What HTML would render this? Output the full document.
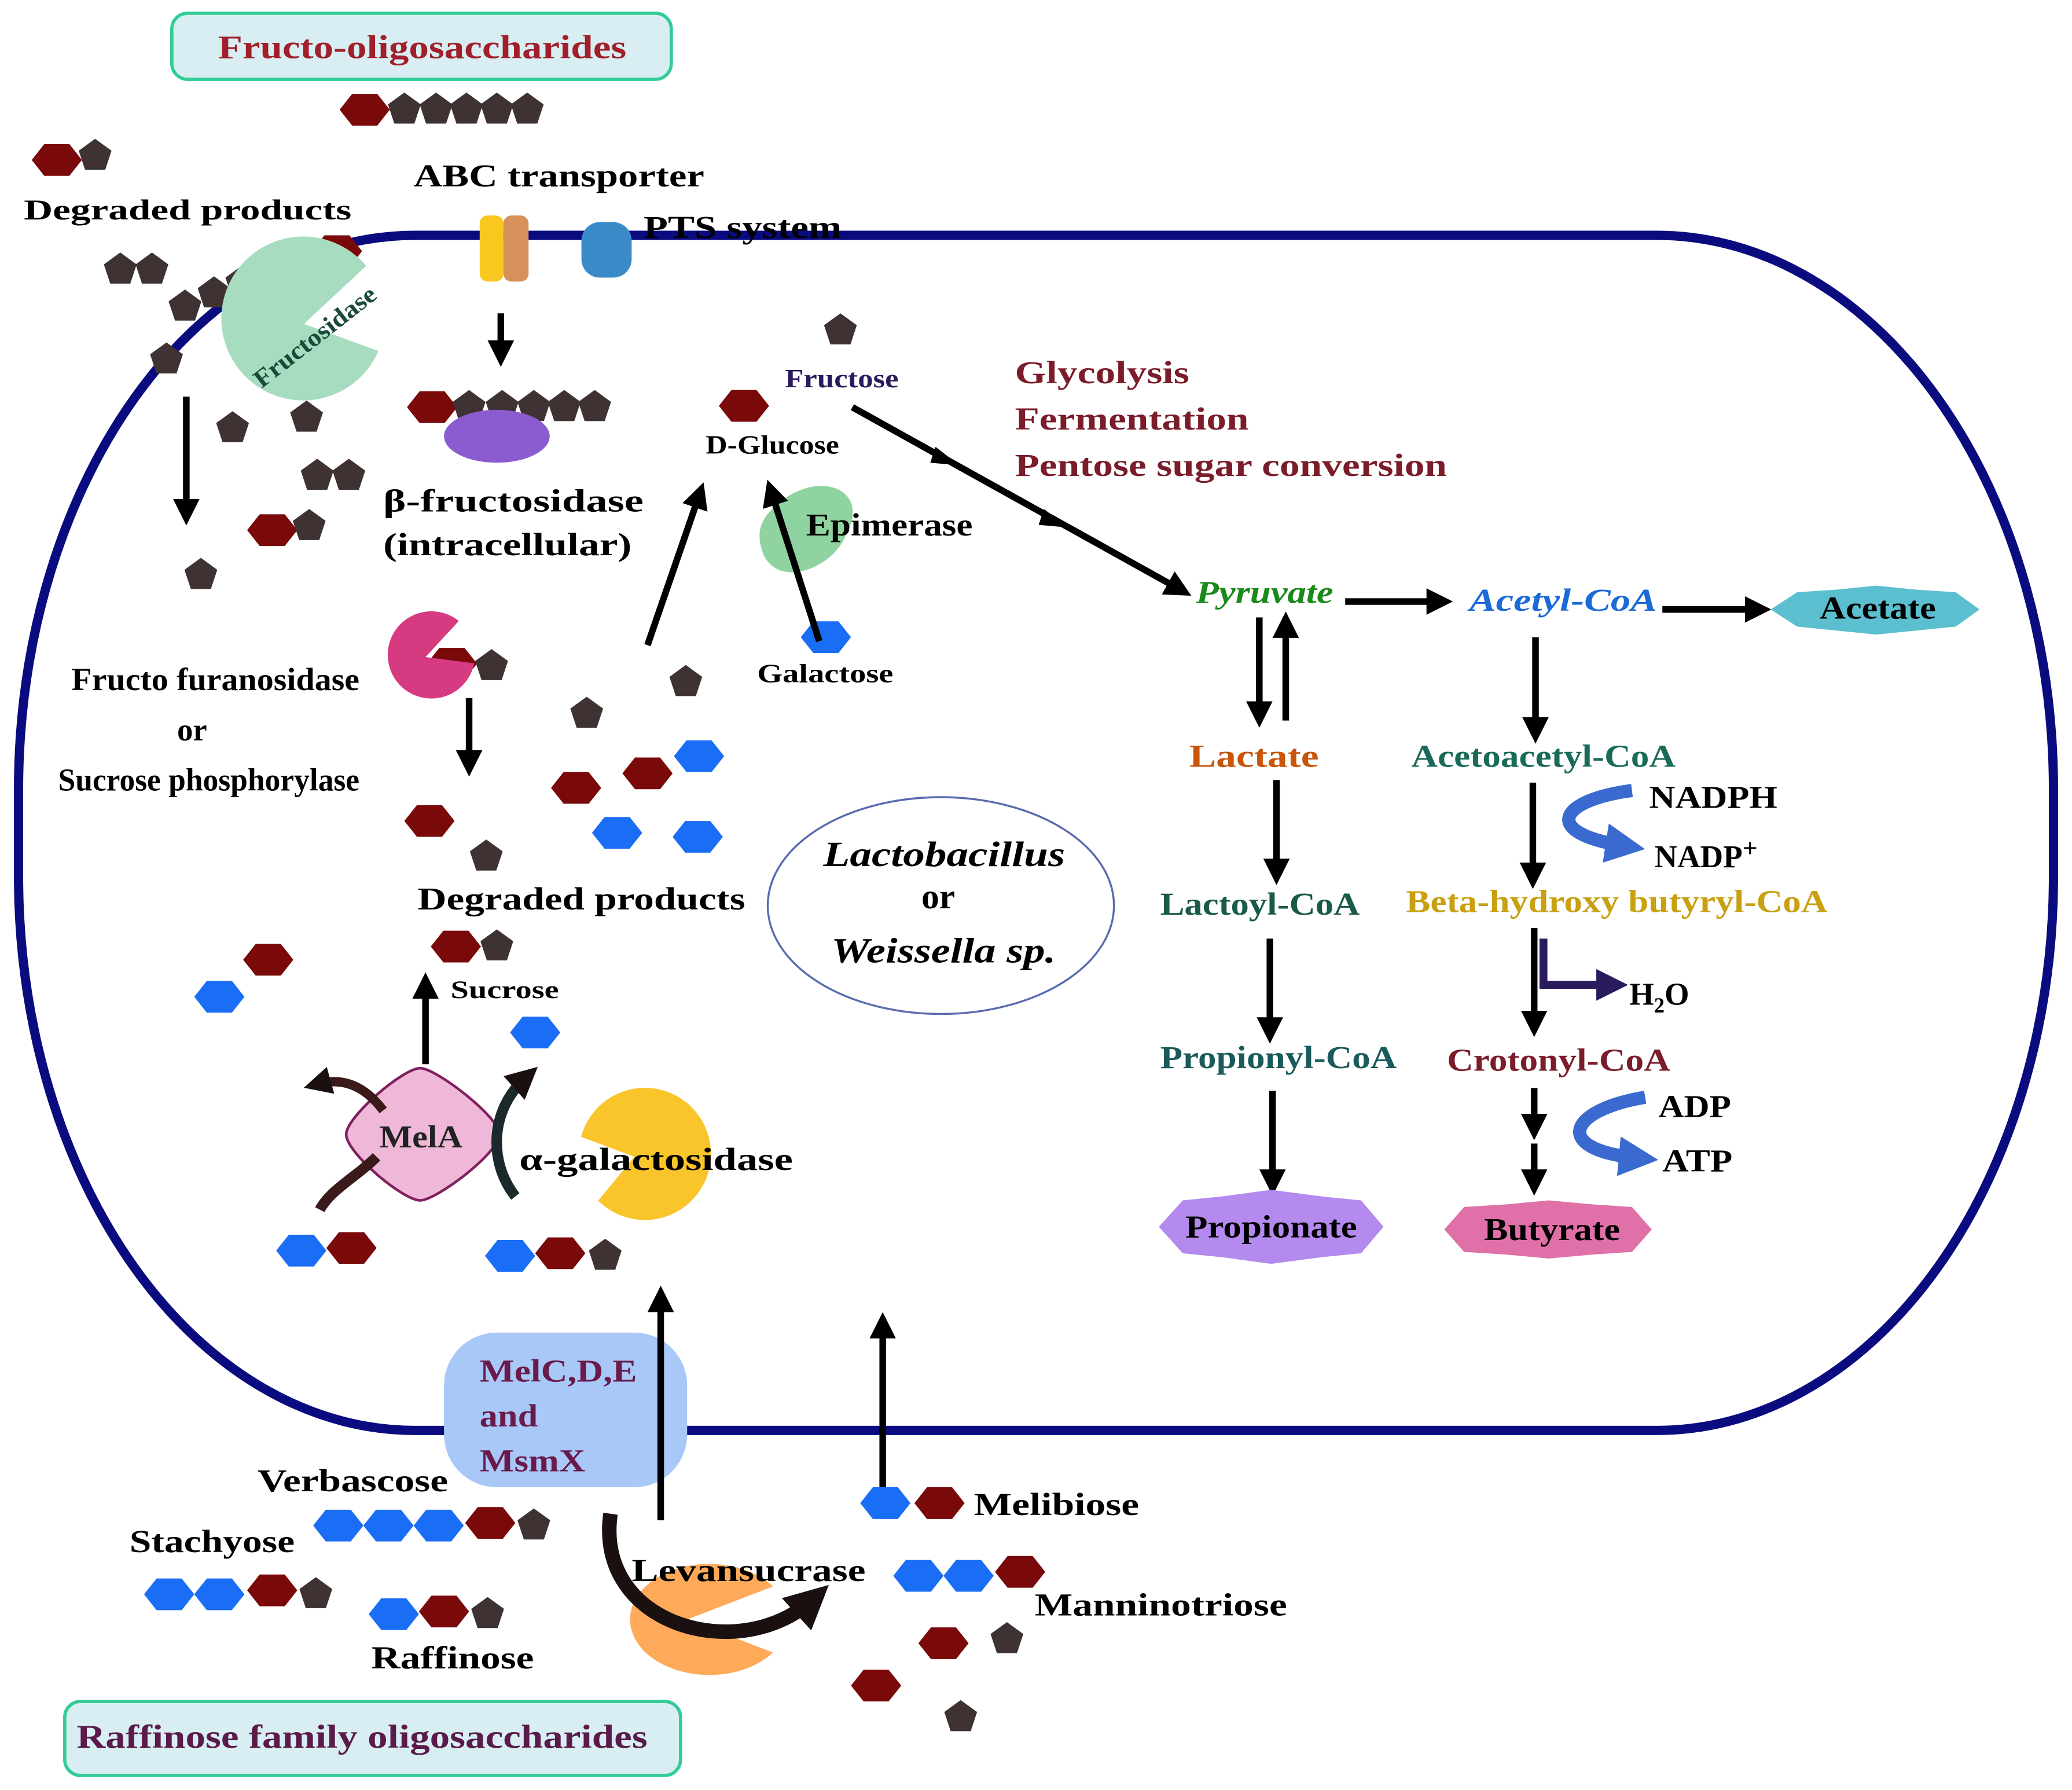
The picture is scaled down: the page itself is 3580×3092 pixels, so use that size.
<!DOCTYPE html>
<html><head><meta charset="utf-8">
<style>
html,body{margin:0;padding:0;background:#fff}
svg{display:block}
text{font-family:"Liberation Serif",serif;font-weight:bold}
</style></head>
<body>
<svg id="s" xmlns="http://www.w3.org/2000/svg" width="3580" height="3092" viewBox="0 0 1568 1354" preserveAspectRatio="none">
<defs>
<marker id="ah" markerWidth="4" markerHeight="4" refX="2.5" refY="2" orient="auto" markerUnits="strokeWidth"><path d="M0,0 L4,2 L0,4 z" fill="#000"/></marker>
<marker id="ah2" markerWidth="4" markerHeight="4" refX="2" refY="2" orient="auto" markerUnits="strokeWidth"><path d="M0,0 L4,2 L0,4 z" fill="#2a1a5e"/></marker>
<marker id="ah3" markerWidth="3" markerHeight="3" refX="1.5" refY="1.5" orient="auto" markerUnits="strokeWidth"><path d="M0,0 L3,1.5 L0,3 z" fill="#3a6ad0"/></marker>
<marker id="ah4" markerWidth="3" markerHeight="3" refX="1.5" refY="1.5" orient="auto" markerUnits="strokeWidth"><path d="M0,0 L3,1.5 L0,3 z" fill="#1a1010"/></marker>
</defs>
<rect x="0" y="0" width="1568" height="1354" fill="#fff"/>
<rect x="14" y="178" width="1540" height="904" rx="300" ry="420" fill="none" stroke="#0b0b80" stroke-width="7"/>
<rect x="130" y="10" width="378" height="50" rx="12" fill="#d8eef2" stroke="#33cc99" stroke-width="2.5"/>
<text x="165" y="44" font-size="25" fill="#a01f2a" textLength="309" lengthAdjust="spacingAndGlyphs">Fructo-oligosaccharides</text>
<rect x="49" y="1287" width="466" height="56" rx="12" fill="#d8eef2" stroke="#33cc99" stroke-width="2.5"/>
<text x="58" y="1322" font-size="25" fill="#5a1a4a" textLength="432" lengthAdjust="spacingAndGlyphs">Raffinose family oligosaccharides</text>
<g id="shapes"></g>
<rect x="363" y="163" width="18" height="50" rx="6" fill="#f8c820"/>
<rect x="381" y="163" width="19" height="50" rx="6" fill="#d8905a"/>
<rect x="440" y="168" width="38" height="42" rx="14" fill="#3a8ac8"/>
<path d="M230,245 L284,210 A62,62 0 1 0 282,275 Z" fill="#a8dcc0" transform="rotate(-10 230 245)"/>
<text x="0" y="0" font-size="19" fill="#1a4a3a" transform="translate(198,294) rotate(-38)" textLength="112" lengthAdjust="spacingAndGlyphs">Fructosidase</text>
<ellipse cx="376" cy="330" rx="40" ry="20" fill="#8a5ccf"/>
<path d="M590,380 C620,355 660,370 640,405 C630,430 590,445 578,420 C570,400 578,390 590,380Z" fill="#8fd4a0"/>
<path d="M322,497 L355,480 A33,33 0 1 0 355,514 Z" fill="#d63a80" transform="rotate(-20 322 497)"/>
<path d="M480,875 L445,850 A50,50 0 1 1 445,900 Z" fill="#f9c52a" transform="rotate(-15 480 875)"/>
<path d="M520,1225 L585,1200 A60,42 0 1 0 585,1250 Z" fill="#ffaa5a"/>
<rect x="336" y="1008" width="184" height="117" rx="40" fill="#a8c8f8"/>
<text x="363" y="1045" font-size="24" fill="#6a1a4a" textLength="119" lengthAdjust="spacingAndGlyphs">MelC,D,E</text>
<text x="363" y="1079" font-size="24" fill="#6a1a4a" textLength="44" lengthAdjust="spacingAndGlyphs">and</text>
<text x="363" y="1113" font-size="24" fill="#6a1a4a" textLength="80" lengthAdjust="spacingAndGlyphs">MsmX</text>
<path d="M318,808 C330,808 378,845 378,858 C378,872 330,908 318,908 C305,908 262,872 262,858 C262,845 305,808 318,808Z" fill="#f0b8d8" stroke="#802060" stroke-width="2"/>
<text x="287" y="868" font-size="24" fill="#222" textLength="63" lengthAdjust="spacingAndGlyphs">MelA</text>
<path d="M290,840 C275,820 258,815 240,820" fill="none" stroke="#3a1a1a" stroke-width="7" marker-end="url(#ah4)"/>
<path d="M285,875 C270,890 250,900 242,915" fill="none" stroke="#3a1a1a" stroke-width="8"/>
<path d="M390,905 C370,880 370,840 398,815" fill="none" stroke="#1a2a2a" stroke-width="8" marker-end="url(#ah4)"/>
<g stroke="#000" stroke-width="5" fill="none" marker-end="url(#ah)">
<line x1="141" y1="300" x2="141" y2="390"/>
<line x1="379" y1="237" x2="379" y2="270"/>
<line x1="645" y1="308" x2="895" y2="447"/>
<line x1="490" y1="488" x2="530" y2="372"/>
<line x1="620" y1="485" x2="583" y2="370"/>
<line x1="1018" y1="455" x2="1092" y2="455"/>
<line x1="1258" y1="461" x2="1333" y2="461"/>
<line x1="953" y1="467" x2="953" y2="543"/>
<line x1="973" y1="545" x2="973" y2="470"/>
<line x1="966" y1="590" x2="966" y2="662"/>
<line x1="961" y1="710" x2="961" y2="782"/>
<line x1="963" y1="825" x2="963" y2="897"/>
<line x1="1162" y1="482" x2="1162" y2="555"/>
<line x1="1160" y1="592" x2="1160" y2="665"/>
<line x1="1161" y1="702" x2="1161" y2="777"/>
<line x1="1161" y1="823" x2="1161" y2="855"/>
<line x1="1161" y1="865" x2="1161" y2="897"/>
<line x1="355" y1="528" x2="355" y2="580"/>
<line x1="322" y1="805" x2="322" y2="743"/>
<line x1="500" y1="1150" x2="500" y2="980"/>
<line x1="668" y1="1125" x2="668" y2="1000"/>
</g>
<g fill="#000"><path d="M708,338 l18,14 l-22,-2z"/><path d="M790,385 l18,14 l-22,-2z"/></g>
<path d="M1168,710 L1168,745 L1220,745" fill="none" stroke="#2a1a5e" stroke-width="6" marker-end="url(#ah2)"/>
<path d="M1235,598 C1180,605 1165,630 1230,640" fill="none" stroke="#3a6ad0" stroke-width="10" marker-end="url(#ah3)"/>
<path d="M1245,830 C1185,840 1175,870 1240,876" fill="none" stroke="#3a6ad0" stroke-width="10" marker-end="url(#ah3)"/>
<path d="M462,1145 C450,1230 560,1260 615,1210" fill="none" stroke="#1a1010" stroke-width="11" marker-end="url(#ah4)"/>
<polygon points="1340,461 1360,448 1390,446 1420,443 1450,446 1480,448 1498,461 1480,474 1450,477 1420,480 1390,477 1360,474" fill="#5bbfd0"/>
<polygon points="877,928 895,908 925,905 962,900 1000,905 1030,908 1047,928 1030,948 1000,951 962,956 925,951 895,948" fill="#b48aef"/>
<polygon points="1093,930 1108,913 1140,911 1172,908 1205,911 1235,913 1250,930 1235,947 1205,949 1172,952 1140,949 1108,947" fill="#e070a8"/>
<ellipse cx="712" cy="685" rx="131" ry="82" fill="none" stroke="#5a6ab0" stroke-width="1.5"/>
<g font-size="24" fill="#000" lengthAdjust="spacingAndGlyphs">
<text x="18" y="166" font-size="22" textLength="248" lengthAdjust="spacingAndGlyphs">Degraded products</text>
<text x="313" y="141" textLength="220" lengthAdjust="spacingAndGlyphs">ABC transporter</text>
<text x="487" y="180" textLength="150" lengthAdjust="spacingAndGlyphs">PTS system</text>
<text x="290" y="387" textLength="197" lengthAdjust="spacingAndGlyphs">β-fructosidase</text>
<text x="290" y="420" textLength="188" lengthAdjust="spacingAndGlyphs">(intracellular)</text>
<text x="594" y="293" font-size="20" fill="#2a1a5e" textLength="86" lengthAdjust="spacingAndGlyphs">Fructose</text>
<text x="534" y="343" font-size="20" textLength="101" lengthAdjust="spacingAndGlyphs">D-Glucose</text>
<text x="768" y="290" fill="#7a1c2a" textLength="132" lengthAdjust="spacingAndGlyphs">Glycolysis</text>
<text x="768" y="325" fill="#7a1c2a" textLength="177" lengthAdjust="spacingAndGlyphs">Fermentation</text>
<text x="768" y="360" fill="#7a1c2a" textLength="327" lengthAdjust="spacingAndGlyphs">Pentose sugar conversion</text>
<text x="610" y="405" textLength="126" lengthAdjust="spacingAndGlyphs">Epimerase</text>
<text x="573" y="516" font-size="20" textLength="103" lengthAdjust="spacingAndGlyphs">Galactose</text>
<text x="905" y="456" font-style="italic" fill="#1a8a1a" textLength="104" lengthAdjust="spacingAndGlyphs">Pyruvate</text>
<text x="1112" y="462" font-style="italic" fill="#1a6ad8" textLength="142" lengthAdjust="spacingAndGlyphs">Acetyl-CoA</text>
<text x="1377" y="468" textLength="88" lengthAdjust="spacingAndGlyphs">Acetate</text>
<text x="900" y="580" fill="#c8560a" textLength="98" lengthAdjust="spacingAndGlyphs">Lactate</text>
<text x="878" y="692" fill="#1a5a4a" textLength="151" lengthAdjust="spacingAndGlyphs">Lactoyl-CoA</text>
<text x="878" y="808" fill="#1a5a5a" textLength="179" lengthAdjust="spacingAndGlyphs">Propionyl-CoA</text>
<text x="897" y="936" textLength="130" lengthAdjust="spacingAndGlyphs">Propionate</text>
<text x="1068" y="580" fill="#1a6a5a" textLength="200" lengthAdjust="spacingAndGlyphs">Acetoacetyl-CoA</text>
<text x="1248" y="611" textLength="97" lengthAdjust="spacingAndGlyphs">NADPH</text>
<text x="1252" y="656">NADP<tspan dy="-8" font-size="20">+</tspan></text>
<text x="1064" y="690" fill="#c8a010" textLength="319" lengthAdjust="spacingAndGlyphs">Beta-hydroxy butyryl-CoA</text>
<text x="1233" y="760">H<tspan dy="6" font-size="16">2</tspan><tspan dy="-6">O</tspan></text>
<text x="1095" y="810" fill="#7a1c2a" textLength="169" lengthAdjust="spacingAndGlyphs">Crotonyl-CoA</text>
<text x="1255" y="845" textLength="55" lengthAdjust="spacingAndGlyphs">ADP</text>
<text x="1258" y="886" textLength="53" lengthAdjust="spacingAndGlyphs">ATP</text>
<text x="1123" y="938" textLength="103" lengthAdjust="spacingAndGlyphs">Butyrate</text>
<text x="623" y="655" font-size="27" font-style="italic" textLength="183" lengthAdjust="spacingAndGlyphs">Lactobacillus</text>
<text x="710" y="687" font-size="27" text-anchor="middle">or</text>
<text x="629" y="728" font-size="27" font-style="italic" textLength="170" lengthAdjust="spacingAndGlyphs">Weissella sp.</text>
<text x="54" y="522" textLength="218" lengthAdjust="spacingAndGlyphs">Fructo furanosidase</text>
<text x="134" y="560">or</text>
<text x="44" y="598" textLength="228" lengthAdjust="spacingAndGlyphs">Sucrose phosphorylase</text>
<text x="316" y="688" textLength="248" lengthAdjust="spacingAndGlyphs">Degraded products</text>
<text x="341" y="755" font-size="19" textLength="82" lengthAdjust="spacingAndGlyphs">Sucrose</text>
<text x="393" y="885" textLength="207" lengthAdjust="spacingAndGlyphs">α-galactosidase</text>
<text x="195" y="1128" textLength="144" lengthAdjust="spacingAndGlyphs">Verbascose</text>
<text x="98" y="1174" textLength="125" lengthAdjust="spacingAndGlyphs">Stachyose</text>
<text x="281" y="1262" textLength="123" lengthAdjust="spacingAndGlyphs">Raffinose</text>
<text x="478" y="1196" textLength="177" lengthAdjust="spacingAndGlyphs">Levansucrase</text>
<text x="737" y="1146" textLength="125" lengthAdjust="spacingAndGlyphs">Melibiose</text>
<text x="783" y="1222" textLength="191" lengthAdjust="spacingAndGlyphs">Manninotriose</text>
</g>
<script>
(function(){
var g=document.getElementById('shapes'),NS='http://www.w3.org/2000/svg';
var R='#7a0a0a',P='#3e3232',B='#1a6ef5';
function poly(pts,c){var p=document.createElementNS(NS,'polygon');p.setAttribute('points',pts.map(function(a){return a[0].toFixed(1)+','+a[1].toFixed(1)}).join(' '));p.setAttribute('fill',c);g.appendChild(p);}
function hex(x,y,c){var r=19,h=12;poly([[x-r,y],[x-r/2,y-h],[x+r/2,y-h],[x+r,y],[x+r/2,y+h],[x-r/2,y+h]],c);}
function pent(x,y){var r=13,a=[];for(var i=0;i<5;i++){var t=-Math.PI/2+i*2*Math.PI/5;a.push([x+r*Math.cos(t),y+r*Math.sin(t)]);}poly(a,P);}
var H=[[276,83,R],[43,121,R],[255,190,R],[206,401,R],[327,308,R],[563,307,R],[342,502,R],[325,621,R],[436,596,R],[490,585,R],[529,572,B],[467,630,B],[528,633,B],[345,716,R],[405,781,B],[203,726,R],[166,754,B],[625,482,B],[228,946,B],[266,944,R],[386,950,B],[424,948,R],[256,1154,B],[294,1154,B],[332,1154,B],[371,1152,R],[128,1206,B],[166,1206,B],[206,1203,R],[298,1221,B],[336,1219,R],[670,1137,B],[711,1137,R],[695,1192,B],[733,1192,B],[772,1189,R],[714,1243,R],[663,1275,R]];
H.forEach(function(h){hex(h[0],h[1],h[2]);});
[[306,83],[330,83],[353,83],[376,83],[399,83],[72,118],[91,204],[115,204],[140,232],[162,222],[183,214],[205,206],[228,198],[126,272],[176,324],[232,316],[240,360],[264,360],[234,398],[152,435],[355,308],[380,308],[404,308],[427,308],[450,308],[636,250],[372,504],[368,648],[519,516],[444,540],[376,716],[458,950],[404,1154],[239,1206],[369,1221],[762,1240],[727,1299]].forEach(function(p){pent(p[0],p[1]);});
})();
</script>
</svg>
</body></html>
